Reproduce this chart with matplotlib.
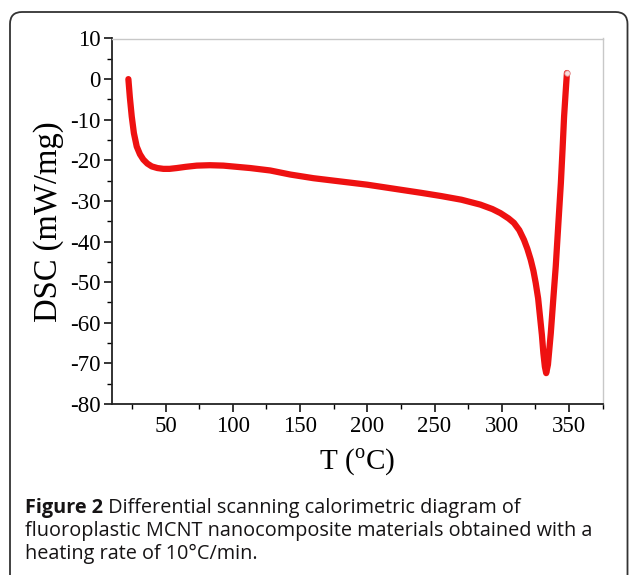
import matplotlib
matplotlib.use("Agg")
import matplotlib.pyplot as plt
from matplotlib.patches import FancyBboxPatch
from matplotlib.ticker import MultipleLocator

# DSC curve
temperature = [22.4, 23.5, 24.9, 26.5, 28.6, 31.0, 33.5, 36.5, 39.8, 44.0, 48.4, 53.0,
               58.4, 65.0, 73.3, 83.0, 93.0, 103.0, 113.0, 127.9, 142.8, 160.0, 180.0,
               200.0, 220.0, 240.0, 255.0, 270.0, 284.0, 293.0, 299.0, 305.0, 309.0,
               313.0, 316.5, 319.0, 321.5, 323.5, 325.2, 327.0, 328.4, 329.8, 330.9,
               332.0, 333.0, 334.3, 336.4, 338.2, 340.1, 342.0, 343.9, 345.2, 346.3,
               347.4, 348.4]
dsc = [0.0, -4.5, -9.2, -13.3, -16.6, -18.5, -19.8, -20.8, -21.5, -21.9, -22.1, -22.1,
       -21.9, -21.6, -21.3, -21.2, -21.3, -21.6, -21.9, -22.5, -23.5, -24.4, -25.2,
       -26.0, -27.0, -28.0, -28.8, -29.7, -30.9, -32.0, -33.0, -34.3, -35.4,
       -37.2, -39.6, -41.8, -44.5, -47.2, -50.2, -54.0, -58.5, -63.0, -67.5,
       -70.8, -72.4, -70.3, -62.6, -54.5, -46.1, -35.8, -25.6, -17.0, -9.2,
       -3.5, 1.5]

x_ticks = [50, 100, 150, 200, 250, 300, 350]
y_ticks = [10, 0, -10, -20, -30, -40, -50, -60, -70, -80]

caption_bold = "Figure 2"
caption_lines = [" Differential scanning calorimetric diagram of",
                 "fluoroplastic MCNT nanocomposite materials obtained with a",
                 "heating rate of 10\u00b0C/min."]

plt.rcParams["font.family"] = "Liberation Serif"
plt.rcParams["mathtext.fontset"] = "custom"
plt.rcParams["mathtext.rm"] = "Liberation Serif"
plt.rcParams["axes.unicode_minus"] = False

W, H = 629, 575
fig = plt.figure(figsize=(W / 100, H / 100), dpi=100)
ax = fig.add_axes([111.7 / W, 1 - 404 / H, (602.7 - 111.7) / W, (404 - 38.5) / H])

ax.plot(temperature, dsc, color="#ee1111", linewidth=4.5, solid_capstyle="round")
ax.plot(temperature[-1:], dsc[-1:], "o", markersize=4, markerfacecolor="#f6dede",
        markeredgecolor="#e08080", markeredgewidth=0.6)

ax.set_xlim(10, 375)
ax.set_ylim(-80, 10)
ax.set_xticks(x_ticks)
ax.set_yticks(y_ticks)
ax.xaxis.set_minor_locator(MultipleLocator(25))
ax.yaxis.set_minor_locator(MultipleLocator(5))
ax.tick_params(which="major", length=5.5, width=1.1, labelsize=16.5, pad=2.5)
ax.tick_params(which="minor", length=3.5, width=1.0)
ax.tick_params(axis="x", pad=3.5)

for side in ["left", "bottom"]:
    ax.spines[side].set_linewidth(1.3)
    ax.spines[side].set_color("#222222")
for side in ["top", "right"]:
    ax.spines[side].set_linewidth(1.0)
    ax.spines[side].set_color("#c8c8c8")

ax.set_xlabel(r"T ($^{\mathrm{o}}$C)", fontsize=21, labelpad=7)
ax.set_ylabel("DSC (mW/mg)", fontsize=23.5, labelpad=4)

# rounded frame around figure and caption
frame = FancyBboxPatch((10, -30), 617.5, H - 12 + 30,
                       boxstyle="round,pad=0,rounding_size=12",
                       transform=None, facecolor="none", edgecolor="#333333",
                       linewidth=1.3)
fig.patches.append(frame)

cap_kw = dict(family="Open Sans", fontsize=14.3, color="#161415", va="baseline")
bold = fig.text(25 / W, 1 - 513 / H, caption_bold, fontweight="bold", **cap_kw)
fig.canvas.draw()
bb = bold.get_window_extent()
fig.text(bb.x1 / W, 1 - 513 / H, caption_lines[0], **cap_kw)
fig.text(25 / W, 1 - 536 / H, caption_lines[1], **cap_kw)
fig.text(25 / W, 1 - 559 / H, caption_lines[2], **cap_kw)

fig.savefig("out.png", dpi=100)
plt.close(fig)
